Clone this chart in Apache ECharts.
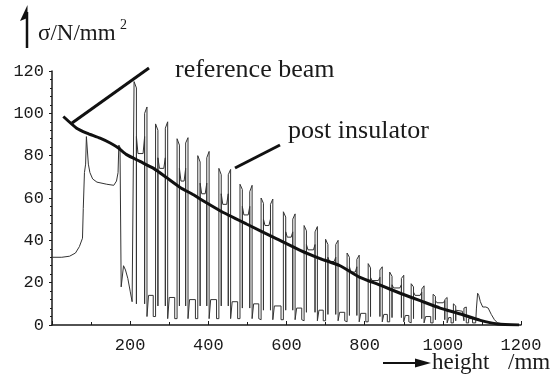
<!DOCTYPE html>
<html>
<head>
<meta charset="utf-8">
<style>
  html, body { margin: 0; padding: 0; background: #fff; }
  #chart { width: 557px; height: 390px; }
</style>
<script src="https://cdn.jsdelivr.net/npm/echarts@6/dist/echarts.min.js"></script>
</head>
<body>
<div id="chart"></div>
<script>
// Axis ranges and tick labels
const xTicks = [0, 200, 400, 600, 800, 1000, 1200];
const yTicks = [0, 20, 40, 60, 80, 100, 120];

// Stress along the reference beam [height mm, stress N/mm²]
const referenceBeam = [
  [29, 98.5], [63, 93], [89, 90.7], [123, 88.3], [149, 86], [170, 83.6],
  [191, 80.5], [225, 77.3], [260, 74], [294, 69.5], [328, 65], [362, 61.5],
  [379, 59.5], [430, 54], [499, 47.6], [575, 40.7], [635, 35.3], [686, 31.4],
  [737, 28], [788, 22.5], [840, 18.8], [891, 15], [942, 11.5], [993, 8],
  [1045, 5.2], [1096, 2.2], [1140, 0.5], [1195, 0]
];

// Stress along the post insulator surface (core, sheds and shed tips)
const postInsulator = [
  // lower fitting and first wide shed
  [0, 32], [25, 32], [45, 32.5], [60, 34], [70, 37], [78, 41], [80, 55], [83, 72],
  [86, 76], [88, 89], [91, 89], [93, 76], [97, 72], [104, 69], [115, 67.5],
  [140, 66.5], [158, 66], [165, 68], [169, 72], [171, 85], [174, 84], [177, 18],
  [181, 18], [183, 28], [188, 26], [194, 22], [200, 16], [205, 11], [208, 11],
  // shed 1
  [210, 11], [210, 115], [216, 112], [216, 10], [216, 89], [220, 81], [233, 81],
  [237, 89], [237, 10], [237, 100], [243, 103], [243, 4], [247, 4], [247, 14],
  [259, 14], [259, 4],
  // shed 2
  [265, 4], [265, 95], [271, 92], [271, 9], [271, 79], [275, 74], [286, 74],
  [290, 79], [290, 9], [290, 93], [296, 96], [296, 3], [300, 3], [300, 13],
  [314, 13], [314, 3],
  // shed 3
  [320, 3], [320, 88], [326, 85], [326, 9], [326, 74], [330, 68], [338, 68],
  [342, 74], [342, 9], [342, 86], [348, 88.5], [348, 3], [352, 3], [352, 12],
  [367, 12], [367, 3],
  // shed 4
  [373, 3], [373, 80], [379, 77], [379, 9], [379, 67], [383, 62], [392, 62],
  [396, 67], [396, 9], [396, 79], [402, 82], [402, 3], [406, 3], [406, 12],
  [421, 12], [421, 3],
  // shed 5
  [427, 3], [427, 74], [433, 71], [433, 9], [433, 62], [437, 57], [447, 57],
  [451, 62], [451, 9], [451, 71], [457, 73.5], [457, 3], [461, 3], [461, 11],
  [475, 11], [475, 3],
  // shed 6
  [481, 3], [481, 66.5], [487, 64], [487, 8], [487, 56], [491, 52], [502, 52],
  [506, 56], [506, 8], [506, 63], [512, 66], [512, 3], [516, 3], [516, 10],
  [529, 10], [529, 3],
  // shed 7
  [535, 2.5], [535, 60], [541, 57.5], [541, 7], [541, 50], [545, 47], [555, 47],
  [559, 50], [559, 7], [559, 57], [565, 59.5], [565, 2.5], [569, 2.5], [569, 9],
  [586, 9], [586, 2.5],
  // shed 8
  [592, 2.5], [592, 53.5], [598, 51], [598, 7], [598, 44], [602, 41.5], [612, 41.5],
  [616, 44], [616, 7], [616, 50], [622, 52.5], [622, 2.5], [626, 2.5], [626, 8],
  [639, 8], [639, 2.5],
  // shed 9
  [645, 2], [645, 47], [651, 44.5], [651, 6], [651, 38], [655, 35.5], [669, 35.5],
  [673, 38], [673, 6], [673, 44], [679, 46.5], [679, 2], [683, 2], [683, 7],
  [694, 7], [694, 2],
  // shed 10
  [700, 2], [700, 40.5], [706, 38], [706, 5], [706, 32], [710, 30], [722, 30],
  [726, 32], [726, 5], [726, 38], [732, 40], [732, 2], [736, 2], [736, 6],
  [749, 6], [749, 2],
  // shed 11
  [755, 1.5], [755, 34], [761, 32], [761, 4.5], [761, 27.5], [765, 25], [776, 25],
  [780, 27.5], [780, 4.5], [780, 31], [786, 33], [786, 1.5], [790, 1.5], [790, 5.5],
  [803, 5.5], [803, 1.5],
  // shed 12
  [809, 1.5], [809, 29], [815, 27], [815, 4], [815, 22.5], [819, 21], [835, 21],
  [839, 22.5], [839, 4], [839, 26], [845, 27.5], [845, 1.5], [849, 1.5], [849, 5],
  [858, 5], [858, 1.5],
  // shed 13
  [864, 1.5], [864, 25], [870, 23], [870, 3.5], [870, 19], [874, 17.5], [890, 17.5],
  [894, 19], [894, 3.5], [894, 22], [900, 23.5], [900, 1.5], [904, 1.5], [904, 4.5],
  [913, 4.5], [913, 1.5],
  // shed 14
  [919, 1], [919, 19.5], [925, 18], [925, 3], [925, 15.5], [929, 14], [942, 14],
  [946, 15.5], [946, 3], [946, 17], [952, 18.5], [952, 1], [956, 1], [956, 4],
  [969, 4], [969, 1],
  // shed 15
  [975, 1], [975, 14.5], [981, 13.5], [981, 2.5], [981, 11.5], [985, 10.5], [1001, 10.5],
  [1005, 11.5], [1005, 2.5], [1005, 12], [1011, 13], [1011, 1], [1015, 1], [1015, 3.5],
  [1021, 3.5], [1021, 1],
  // shed 16
  [1027, 1], [1027, 10], [1033, 9], [1033, 2], [1033, 7], [1037, 6.5], [1050, 6.5],
  [1054, 7], [1054, 2], [1054, 8], [1060, 8.5], [1060, 1], [1066, 1], [1066, 3],
  [1076, 3], [1076, 1],
  // upper fitting
  [1084, 1], [1086, 8], [1089, 15], [1092, 14], [1096, 11], [1102, 8.5], [1110, 8.5],
  [1116, 8], [1124, 5], [1132, 2.5], [1140, 1], [1160, 0.3], [1180, 0]
];

const ink = '#1a1a1a';
const serif = '"Liberation Serif", "Times New Roman", serif';
const mono = '"Liberation Mono", "Courier New", monospace';

function textEl(str, x, y, size) {
  return {
    type: 'text',
    silent: true,
    style: {
      text: str, x: x, y: y,
      font: size + 'px ' + serif,
      fill: ink,
      align: 'left', verticalAlign: 'middle',
      textAlign: 'left', textVerticalAlign: 'middle'
    }
  };
}

const chart = echarts.init(document.getElementById('chart'), null, { renderer: 'canvas' });

chart.setOption({
  animation: false,
  backgroundColor: '#fff',
  grid: { left: 52, right: 36, top: 71, bottom: 65, containLabel: false },
  xAxis: {
    type: 'value',
    min: xTicks[0], max: xTicks[xTicks.length - 1], interval: xTicks[1] - xTicks[0],
    axisLine: { show: true, onZero: false, lineStyle: { color: ink, width: 1.5 } },
    axisTick: { show: true, inside: true, length: 4, lineStyle: { color: ink, width: 1 } },
    minorTick: { show: true, splitNumber: 2, length: 3, lineStyle: { color: ink, width: 1 } },
    splitLine: { show: false },
    axisLabel: {
      margin: 12, color: ink, fontFamily: mono, fontSize: 17,
      formatter: v => (v === 0 ? '' : String(v))
    }
  },
  yAxis: {
    type: 'value',
    min: yTicks[0], max: yTicks[yTicks.length - 1], interval: yTicks[1] - yTicks[0],
    axisLine: { show: true, onZero: false, lineStyle: { color: ink, width: 1.5 } },
    axisTick: { show: true, inside: false, length: 3, lineStyle: { color: ink, width: 1 } },
    minorTick: { show: true, splitNumber: 5, length: 2, lineStyle: { color: ink, width: 1 } },
    splitLine: { show: false },
    axisLabel: { margin: 8, color: ink, fontFamily: mono, fontSize: 17 }
  },
  series: [
    {
      name: 'post insulator',
      type: 'line',
      data: postInsulator,
      showSymbol: false,
      symbol: 'none',
      lineStyle: { color: '#333', width: 1 },
      z: 2
    },
    {
      name: 'reference beam',
      type: 'line',
      data: referenceBeam,
      showSymbol: false,
      symbol: 'none',
      smooth: 0.2,
      lineStyle: { color: '#111', width: 3 },
      z: 3
    }
  ],
  graphic: [
    // leader lines for the two curve names
    { type: 'line', silent: true, shape: { x1: 72, y1: 123, x2: 149, y2: 68 },
      style: { stroke: '#111', lineWidth: 3 } },
    { type: 'line', silent: true, shape: { x1: 235, y1: 168, x2: 280, y2: 145 },
      style: { stroke: '#111', lineWidth: 3 } },
    textEl('reference beam', 175, 70.5, 26),
    textEl('post insulator', 288, 131.5, 26),
    // y-axis title with upward arrow
    { type: 'line', silent: true, shape: { x1: 27, y1: 48, x2: 27, y2: 12 },
      style: { stroke: '#111', lineWidth: 2.5 } },
    { type: 'polygon', silent: true, shape: { points: [[27.5, 5], [20, 21], [27.5, 18]] },
      style: { fill: '#111' } },
    textEl('σ/N/mm', 38, 34, 23),
    textEl('2', 120, 25.5, 14),
    // x-axis title with rightward arrow
    { type: 'line', silent: true, shape: { x1: 383, y1: 363, x2: 418, y2: 363 },
      style: { stroke: '#111', lineWidth: 2 } },
    { type: 'polygon', silent: true, shape: { points: [[415, 358.5], [431, 363], [415, 367.5]] },
      style: { fill: '#111' } },
    textEl('height', 432, 362.5, 23),
    textEl('/mm', 508, 362.5, 23)
  ]
});
</script>
</body>
</html>
